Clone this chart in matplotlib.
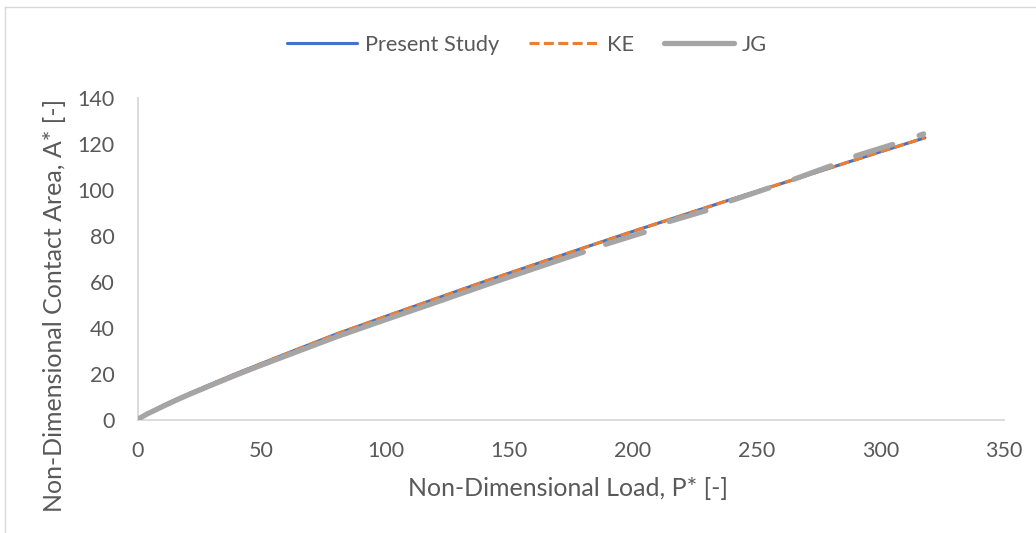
import numpy as np
import matplotlib
matplotlib.use("Agg")
import matplotlib.pyplot as plt
from matplotlib.lines import Line2D

# ---- data ----
present_P = [0, 0.5, 1, 2, 4, 7, 10, 15, 20, 30, 40, 50, 65, 80, 100, 120, 140, 160, 180,
             200, 220, 240, 260, 280, 300, 318]
present_A = [0, 0.63, 1.0, 1.7, 3.0, 4.6, 6.3, 8.8, 11.2, 15.8, 20.3, 24.6, 31.0, 37.3, 45.0,
             52.6, 60.2, 67.5, 74.8, 82.0, 89.0, 96.0, 102.8, 109.7, 116.6, 122.7]

ke_P = [0, 0.5, 1, 2, 4, 7, 10, 15, 20, 30, 40, 50, 65, 80, 100, 120, 140, 160, 180,
        200, 220, 240, 260, 280, 300, 318]
ke_A = [0, 0.63, 1.0, 1.7, 3.0, 4.6, 6.3, 8.8, 11.2, 15.8, 20.3, 24.6, 31.0, 37.3, 45.0,
        52.6, 60.2, 67.5, 74.8, 82.0, 89.0, 96.0, 102.8, 109.7, 116.6, 122.7]

# JG: plotted with gaps (NaN = empty cell)
jg_P = [0, 0.5, 1, 2, 4, 7, 10, 15, 20, 30, 40, 50, 65, 80, 100, 120, 140, 160, 180, np.nan,
        189, 204.6, np.nan,
        214.7, 229.5, np.nan,
        239.6, 255.0, np.nan,
        265.2, 280.0, np.nan,
        290.1, 305.0, np.nan,
        315.7, 317.5]
jg_A = [0, 0.6, 1.0, 1.6, 2.8, 4.3, 5.9, 8.4, 10.8, 15.3, 19.7, 23.9, 30.0, 36.1, 43.6, 51.0,
        58.5, 65.8, 73.0, np.nan,
        76.4, 81.6, np.nan,
        86.3, 91.0, np.nan,
        95.3, 100.9, np.nan,
        104.7, 110.5, np.nan,
        114.8, 119.8, np.nan,
        123.7, 124.4]

x_ticks = [0, 50, 100, 150, 200, 250, 300, 350]
y_ticks = [0, 20, 40, 60, 80, 100, 120, 140]

TXT = "#595959"
AX = "#D9D9D9"
plt.rcParams['font.family'] = ['Lato', 'DejaVu Sans']

W, H = 1036, 533
fig = plt.figure(figsize=(W / 100, H / 100), dpi=100)
ax = fig.add_axes([138 / W, 1 - 420 / H, (1004 - 138) / W, (420 - 98) / H])

l1, = ax.plot(present_P, present_A, color="#4472C4", lw=2.25, solid_capstyle="round",
              label="Present Study", zorder=3)
l2, = ax.plot(ke_P, ke_A, color="#ED7D31", lw=2.25, dashes=(3.2, 1.4),
              dash_capstyle="butt", label="KE", zorder=4)
l3, = ax.plot(jg_P, jg_A, color="#A5A5A5", lw=3.8, solid_capstyle="round",
              label="JG", zorder=5)

ax.set_xlim(0, 350)
ax.set_ylim(0, 140)
ax.set_xticks(x_ticks)
ax.set_yticks(y_ticks)
ax.tick_params(length=0, labelsize=15.5, colors=TXT)
ax.tick_params(axis="x", pad=15)
ax.tick_params(axis="y", pad=17)
for s in ["top", "right"]:
    ax.spines[s].set_visible(False)
for s in ["left", "bottom"]:
    ax.spines[s].set_color(AX)
    ax.spines[s].set_linewidth(1.3)

fig.text(568 / W, 1 - 489 / H, "Non-Dimensional Load, P* [-]", ha="center", va="center",
         fontsize=18, color=TXT)
fig.text(55 / W, 1 - 305 / H, "Non-Dimensional Contact Area, A* [-]", ha="center",
         va="center", rotation=90, fontsize=18, color=TXT)

leg = fig.legend(handles=[l1, l2, l3], loc="center", bbox_to_anchor=(527 / W, 1 - 45 / H),
                 ncol=3, frameon=False, fontsize=15.7, handlelength=3.2, handletextpad=0.35,
                 columnspacing=1.4)
for t in leg.get_texts():
    t.set_color(TXT)

# outer chart border (only top and left edges visible in the reference)
fig.add_artist(Line2D([5 / W, 1], [1 - 7 / H, 1 - 7 / H], transform=fig.transFigure,
                      color=AX, lw=1))
fig.add_artist(Line2D([5 / W, 5 / W], [0, 1 - 7 / H], transform=fig.transFigure,
                      color=AX, lw=1))

fig.savefig("out.png", dpi=100)
